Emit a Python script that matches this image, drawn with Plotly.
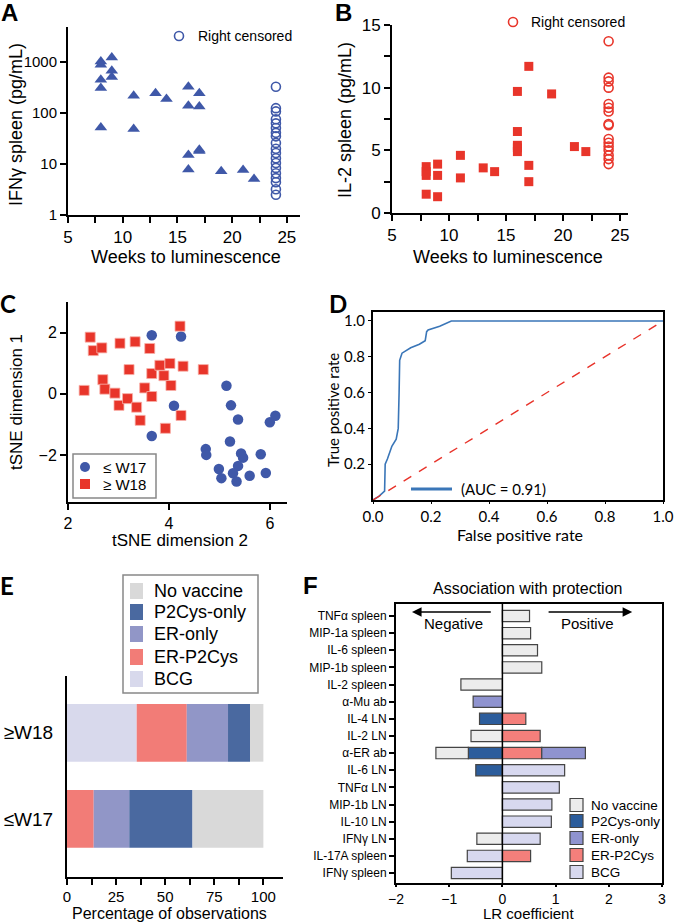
import plotly.graph_objects as go

W, H = 675, 924

# ---------------- data ----------------
# A: IFNg spleen vs weeks
a_weeks = [8, 8, 8, 8, 8, 9, 9, 9, 11, 11, 13, 14, 16, 16, 16, 16, 17, 17, 17, 17, 19, 21, 22]
a_ifng = [1030, 890, 450, 310, 52, 1230, 680, 510, 220, 49, 245, 190, 330, 140, 15, 7.8,
          245, 135, 18, 19, 7.2, 7.6, 5.1]
a_cens_weeks = [24] * 19
a_cens_ifng = [330, 125, 108, 76, 63, 51, 41, 35, 26, 20, 16.5, 13, 10.5, 8.4, 6.6, 5.3, 4.4, 3.2, 2.5]

# B: IL-2 spleen vs weeks
b_weeks = [8, 8, 8, 8, 9, 9, 9, 11, 11, 13, 14, 16, 16, 16, 16, 16, 17, 17, 17, 19, 21, 22]
b_il2 = [3.7, 3.3, 3.0, 1.5, 3.9, 3.0, 1.3, 4.6, 2.8, 3.6, 3.3, 9.7, 6.5, 5.4, 5.2, 4.9,
         11.7, 3.8, 2.5, 9.5, 5.3, 4.9]
b_cens_weeks = [24] * 16
b_cens_il2 = [13.7, 10.8, 10.5, 10.0, 8.7, 8.4, 8.1, 7.1, 7.0, 5.9, 5.6, 5.3, 5.0, 4.6, 4.3, 3.9]

# C: tSNE
c_early_d2 = [3.66, 4.24, 4.10, 3.66, 5.14, 5.23, 5.37, 6.00, 6.11, 5.21, 4.73, 4.74, 5.43,
              5.47, 5.82, 4.99, 5.37, 5.27, 5.04, 5.34, 5.60, 5.92]
c_early_d1 = [1.91, 1.87, -0.39, -1.38, 0.26, -0.38, -0.84, -0.93, -0.72, -1.56, -1.81, -2.0,
              -1.95, -2.09, -1.98, -2.46, -2.36, -2.60, -2.76, -2.87, -2.68, -2.59]
c_late_d2 = [2.44, 2.50, 2.67, 3.03, 3.33, 3.62, 2.32, 2.69, 2.73, 2.93, 3.01, 3.18, 3.21,
             3.36, 3.43, 3.52, 3.66, 3.66, 3.82, 3.90, 4.02, 4.04, 4.22, 4.28, 4.24, 3.93, 4.68]
c_late_d1 = [1.85, 1.41, 1.50, 1.65, 1.70, 1.48, 0.11, 0.46, 0.15, 0.02, -0.38, -0.16, 0.79,
             -0.44, -0.87, 0.19, -0.09, 0.66, 0.93, 0.59, 0.99, 0.27, 2.21, 0.90, -0.71, -1.13, 0.79]

# D: ROC
roc_fpr = [0, 0.02, 0.04, 0.042, 0.05, 0.065, 0.08, 0.087, 0.09, 0.092, 0.1, 0.13, 0.16,
           0.18, 0.185, 0.19, 0.23, 0.27, 1.0]
roc_tpr = [0, 0.02, 0.05, 0.2, 0.23, 0.3, 0.34, 0.4, 0.6, 0.78, 0.82, 0.85, 0.87,
           0.89, 0.94, 0.95, 0.97, 1.0, 1.0]
chance_x = [0, 1]
chance_y = [0, 1]

# E: composition (%)
e_groups = ["≤W17", "≥W18"]
e_bcg = [0, 35.5]
e_erp2 = [13.6, 25.5]
e_eronly = [18.1, 21.0]
e_p2only = [32.2, 11.2]
e_novac = [36.1, 6.8]

# F: LR coefficients
f_feats = ["TNFα spleen", "MIP-1a spleen", "IL-6 spleen", "MIP-1b spleen", "IL-2 spleen",
           "α-Mu ab", "IL-4 LN", "IL-2 LN", "α-ER ab", "IL-6 LN", "TNFα LN", "MIP-1b LN",
           "IL-10 LN", "IFNγ LN", "IL-17A spleen", "IFNγ spleen"]
f_novac = [0.51, 0.53, 0.66, 0.74, -0.78, None, None, -0.59, -0.61, None, None, None, None, -0.48, None, None]
f_p2only = [None, None, None, None, None, None, -0.43, None, -0.64, -0.50, None, None, None, None, None, None]
f_eronly = [None, None, None, None, None, -0.55, None, None, 0.82, None, None, None, None, None, None, None]
f_erp2 = [None, None, None, None, None, None, 0.44, 0.71, 0.74, None, None, None, None, None, 0.53, None]
f_bcg = [None, None, None, None, None, None, None, None, None, 1.17, 1.07, 0.93, 0.92, 0.71, -0.66, -0.96]


def fx(p):
    return p / W


def fy(p):
    return 1 - p / H


def dx(a, b):
    return [fx(a), fx(b)]


def dy(top, bottom):
    return [fy(bottom), fy(top)]


SANS = "Liberation Sans, Arial, sans-serif"
CAL = "Lato, Open Sans, sans-serif"
BLUE = "#3f58a8"
RED = "#e8352a"

fig = go.Figure()

# A
fig.add_trace(go.Scatter(x=a_weeks, y=a_ifng, mode="markers", xaxis="x", yaxis="y",
                         marker=dict(symbol="triangle-up", size=11, color=BLUE)))
fig.add_trace(go.Scatter(x=a_cens_weeks, y=a_cens_ifng, mode="markers", xaxis="x", yaxis="y",
                         marker=dict(symbol="circle-open", size=9, color=BLUE, line=dict(width=1.6))))
# B
fig.add_trace(go.Scatter(x=b_weeks, y=b_il2, mode="markers", xaxis="x2", yaxis="y2",
                         marker=dict(symbol="square", size=9, color=RED)))
fig.add_trace(go.Scatter(x=b_cens_weeks, y=b_cens_il2, mode="markers", xaxis="x2", yaxis="y2",
                         marker=dict(symbol="circle-open", size=9, color=RED, line=dict(width=1.6))))
# C
fig.add_trace(go.Scatter(x=c_early_d2, y=c_early_d1, mode="markers", xaxis="x3", yaxis="y3",
                         marker=dict(symbol="circle", size=10.5, color=BLUE)))
fig.add_trace(go.Scatter(x=c_late_d2, y=c_late_d1, mode="markers", xaxis="x3", yaxis="y3",
                         marker=dict(symbol="square", size=10, color=RED,
                                     line=dict(color="#f7b0a8", width=0.8))))
# D
fig.add_trace(go.Scatter(x=roc_fpr, y=roc_tpr, mode="lines", xaxis="x4", yaxis="y4",
                         line=dict(color="#3a76b8", width=1.6)))
fig.add_trace(go.Scatter(x=chance_x, y=chance_y, mode="lines", xaxis="x4", yaxis="y4",
                         line=dict(color="#e8332a", width=1.4, dash="dash")))

# E
e_series = [("BCG", e_bcg, "#d8d9ec", 5), ("ER-P2Cys", e_erp2, "#f27c77", 4),
            ("ER-only", e_eronly, "#9196c7", 3), ("P2Cys-only", e_p2only, "#4a69a0", 2),
            ("No vaccine", e_novac, "#d9d9d9", 1)]
for name, vals, col, rank in e_series:
    fig.add_trace(go.Bar(x=vals, y=e_groups, orientation="h", xaxis="x5", yaxis="y5",
                         name=name, width=0.67, marker=dict(color=col, line=dict(width=0))))

# F (trace order controls stacking away from zero)
f_series = [("P2Cys-only", f_p2only, "#2c5d9c", 2), ("No vaccine", f_novac, "#ececec", 1),
            ("ER-P2Cys", f_erp2, "#f47f7b", 4), ("ER-only", f_eronly, "#8f93cf", 3),
            ("BCG", f_bcg, "#d7d8ef", 5)]
for name, vals, col, rank in f_series:
    fig.add_trace(go.Bar(x=vals, y=f_feats, orientation="h", xaxis="x6", yaxis="y6",
                         name=name, width=0.66,
                         marker=dict(color=col, line=dict(color="#444444", width=1.2))))


def ax(size=17, family=SANS, **kw):
    d = dict(showline=True, linecolor="black", linewidth=2, ticks="outside",
             ticklen=6, tickwidth=1.8, tickcolor="black", showgrid=False,
             zeroline=False, automargin=False,
             tickfont=dict(family=family, size=size, color="black"))
    d.update(kw)
    return d


MINOR = dict(ticks="outside", ticklen=6, tickwidth=1.8, tickcolor="black")

fig.update_layout(
    width=W, height=H, margin=dict(l=0, r=0, t=0, b=0, autoexpand=False),
    paper_bgcolor="white", plot_bgcolor="white", barmode="relative", showlegend=False,
    font=dict(family=SANS, color="black"),
    xaxis=ax(17, domain=dx(68, 300), range=[5, 26.2], tickvals=[5, 10, 15, 20, 25],
             minor=dict(dtick=2.5, **MINOR), anchor="y"),
    yaxis=ax(15, domain=dy(27, 215), type="log", range=[0, 3.69], tickvals=[1, 10, 100, 1000],
             anchor="x"),
    xaxis2=ax(17, domain=dx(392, 628), range=[5, 25.7], tickvals=[5, 10, 15, 20, 25],
              minor=dict(dtick=2.5, **MINOR), anchor="y2"),
    yaxis2=ax(17, domain=dy(25, 213), range=[0, 15], tickvals=[0, 5, 10, 15],
              minor=dict(dtick=2.5, **MINOR), anchor="x2"),
    xaxis3=ax(16, domain=dx(68, 287), range=[2, 6.34], tickvals=[2, 4, 6], anchor="y3"),
    yaxis3=ax(16, domain=dy(302, 502), range=[-3.54, 3.0], tickvals=[-2, 0, 2], anchor="x3"),
    xaxis4=ax(15, CAL, domain=dx(373, 663), range=[0, 1.0], tickvals=[0, 0.2, 0.4, 0.6, 0.8, 1.0],
              tickformat=".1f", mirror=True, ticklen=2, tickwidth=1.2, anchor="y4"),
    yaxis4=ax(15, CAL, domain=dy(312, 500), range=[0, 1.05], tickvals=[0.2, 0.4, 0.6, 0.8, 1.0],
              tickformat=".1f", mirror=True, ticklen=3, tickwidth=1.2, anchor="x4"),
    xaxis5=ax(15, domain=dx(67, 283), range=[0, 110], tickvals=[0, 25, 50, 75, 100],
              minor=dict(dtick=12.5, **MINOR), ticklen=5, anchor="y5"),
    yaxis5=ax(19, domain=dy(676, 877), range=[-0.674, 1.66], categoryorder="array",
              categoryarray=e_groups, ticks="", ticklabelstandoff=8, anchor="x5"),
    xaxis6=ax(14, domain=dx(396, 662), range=[-2, 3], tickvals=[-2, -1, 0, 1, 2, 3],
              mirror=True, ticklen=2, anchor="y6"),
    yaxis6=ax(12, domain=dy(604, 883), range=[15.58, -0.70], categoryorder="array",
              categoryarray=f_feats, mirror=True, ticklen=5, tickwidth=1.5, anchor="x6"),
)

shapes = []


def pshape(kind, x0, y0, x1, y1, fill=None, line=None, lw=0):
    s = dict(type=kind, xref="paper", yref="paper", x0=fx(x0), x1=fx(x1),
             y0=fy(y0), y1=fy(y1), line=dict(width=lw, color=line or "rgba(0,0,0,0)"))
    if fill:
        s["fillcolor"] = fill
    shapes.append(s)


# zero line in F
shapes.append(dict(type="line", xref="x6", yref="paper", x0=0, x1=0, y0=fy(883), y1=fy(604),
                   line=dict(color="black", width=1.5)))

ann = []


def label(text, x, y, size=17, angle=0, family=SANS, bold=False, xanchor="center", yanchor="middle"):
    t = "<b>" + text + "</b>" if bold else text
    ann.append(dict(text=t, x=fx(x), y=fy(y), xref="paper", yref="paper", showarrow=False,
                    textangle=angle, xanchor=xanchor, yanchor=yanchor,
                    font=dict(family=family, size=size, color="black")))


# legends A / B
pshape("circle", 174.5, 31.5, 183.5, 40.5, line=BLUE, lw=1.6)
label("Right censored", 196, 36, 14, xanchor="left")
pshape("circle", 508.5, 17.5, 517.5, 26.5, line=RED, lw=1.6)
label("Right censored", 529, 22, 14, xanchor="left")

# legend C
pshape("rect", 73, 454, 156, 498, fill="white", line="#888888", lw=1.5)
pshape("circle", 80, 462, 90, 472, fill=BLUE)
label("≤ W17", 101, 467, 15, xanchor="left")
pshape("rect", 80, 479, 90, 489, fill=RED)
label("≥ W18", 101, 484, 15, xanchor="left")

# legend D
pshape("line", 411, 489, 452, 489, line="#3a76b8", lw=3)
label("(AUC = 0.91)", 459, 489, 15, family=CAL, xanchor="left")

# legend E
pshape("rect", 123, 575, 258, 693, fill="white", line="#888888", lw=1.5)
e_rows = [591, 612, 634, 657, 679]
for (name, vals, col, rank) in sorted(e_series, key=lambda s: s[3]):
    yc = e_rows[rank - 1]
    pshape("rect", 130, yc - 8, 143, yc + 8, fill=col)
    label(name, 152, yc, 18, xanchor="left")

# legend F
f_rows = [805, 821, 838, 855, 872]
for (name, vals, col, rank) in sorted(f_series, key=lambda s: s[3]):
    yc = f_rows[rank - 1]
    pshape("rect", 570, yc - 6.5, 583, yc + 6.5, fill=col, line="#444444", lw=1.2)
    label(name, 589, yc, 13.5, xanchor="left")

# panel letters
label("A", 9, 12, 24, bold=True)
label("B", 343, 12, 24, bold=True)
label("C", 8, 304, 24, family=CAL, bold=True)
label("D", 338, 304, 24, family=CAL, bold=True)
label("E", 7, 585, 24, family=CAL, bold=True)
label("F", 310, 585, 24, bold=True)

# axis titles
label("IFNγ spleen (pg/mL)", 16, 125, 18, angle=-90)
label("Weeks to luminescence", 186, 257, 18)
label("IL-2 spleen (pg/mL)", 345, 120, 18, angle=-90)
label("Weeks to luminescence", 508, 257, 18)
label("tSNE dimension 1", 16, 402, 17, angle=-90)
label("tSNE dimension 2", 180, 540, 17)
label("True positive rate", 333, 410, 15, angle=-90, family=CAL)
label("False positive rate", 520, 534, 16, family=CAL)
label("Percentage of observations", 170, 913, 16)
label("Association with protection", 527, 588, 16)
label("LR coefficient", 528, 924, 15, yanchor="bottom")
label("Negative", 453, 623, 15)
label("Positive", 587, 623, 15)

# arrows in F
ann.append(dict(x=-1.70, y=-0.23, ax=-0.19, ay=-0.23, xref="x6", yref="y6", axref="x6", ayref="y6",
                showarrow=True, arrowhead=2, arrowsize=1.2, arrowwidth=1.6, arrowcolor="black", text=""))
ann.append(dict(x=2.44, y=-0.23, ax=0.84, ay=-0.23, xref="x6", yref="y6", axref="x6", ayref="y6",
                showarrow=True, arrowhead=2, arrowsize=1.2, arrowwidth=1.6, arrowcolor="black", text=""))

fig.update_layout(annotations=ann, shapes=shapes)

# drop the browser's default 8px body margin so the figure sits at the page corner
fig.write_html("out.html", config={"displayModeBar": False},
               post_script="document.body.style.margin = '0';")
